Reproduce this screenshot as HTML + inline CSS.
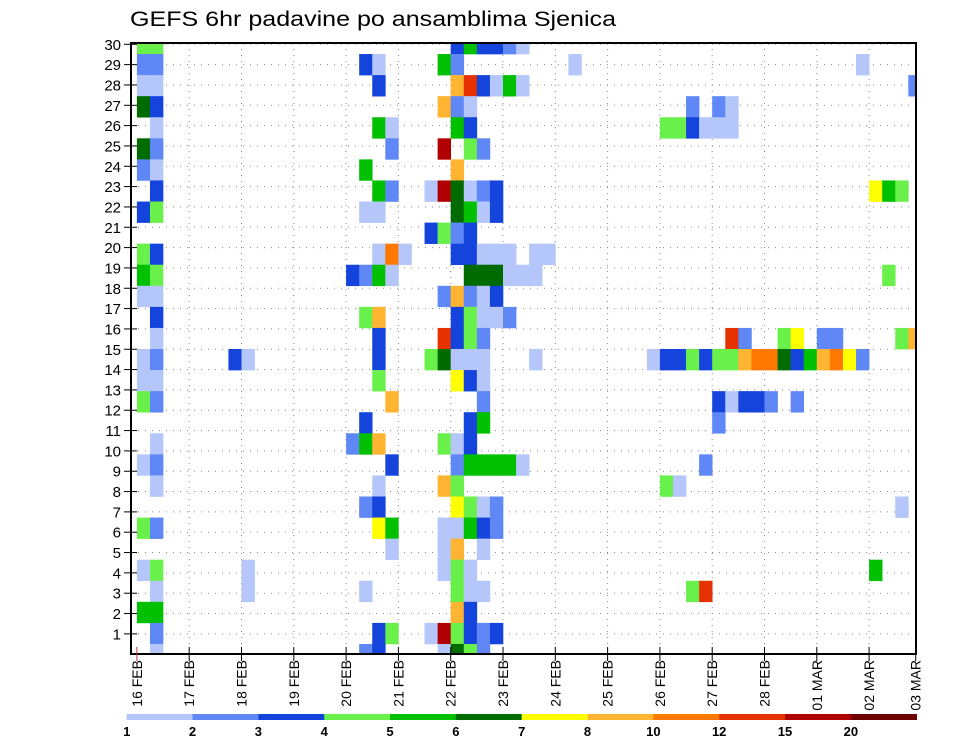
<!DOCTYPE html>
<html><head><meta charset="utf-8"><style>
html,body{margin:0;padding:0;background:#fff;}
svg{display:block;font-family:"Liberation Sans",sans-serif;}
</style></head><body>
<svg id="chart" width="960" height="742" viewBox="0 0 960 742" xmlns="http://www.w3.org/2000/svg">
<rect width="960" height="742" fill="#fff"/>
<text x="130" y="26" font-size="21" textLength="486" lengthAdjust="spacingAndGlyphs" fill="#000">GEFS 6hr padavine po ansamblima Sjenica</text>
<defs><clipPath id="pc"><rect x="131" y="43" width="785" height="611"/></clipPath></defs>
<g id="grid"></g>
<g id="cells" clip-path="url(#pc)"></g>
<rect x="131" y="43" width="785" height="611" fill="none" stroke="#000" stroke-width="2"/>
<g id="yaxis"></g>
<g id="xaxis"></g>
<g id="cbar"></g>
</svg>
<script>
const NS="http://www.w3.org/2000/svg";
const dayLabels=["16 FEB","17 FEB","18 FEB","19 FEB","20 FEB","21 FEB","22 FEB","23 FEB","24 FEB","25 FEB","26 FEB","27 FEB","28 FEB","01 MAR","02 MAR","03 MAR"];
const memberTicks=[1,2,3,4,5,6,7,8,9,10,11,12,13,14,15,16,17,18,19,20,21,22,23,24,25,26,27,28,29,30];
const levels=[1,2,3,4,5,6,7,8,10,12,15,20];
const levelColors=["#b4c6fa","#5f87f6","#1444dc","#6af04a","#00c000","#006c00","#ffff00","#ffb432","#ff7800","#e63200","#b00000","#6e0000"];
// [member, 6h-step index from 16 FEB 00Z, precip mm]
const cells=[
[30,0,4.5],[30,1,4.5],[30,24,3.5],[30,25,5.5],[30,26,3.5],[30,27,3.5],[30,28,2.5],[30,29,1.5],
[29,0,2.5],[29,1,2.5],[29,17,3.5],[29,18,1.5],[29,23,5.5],[29,24,2.5],[29,33,1.5],[29,55,1.5],
[28,0,1.5],[28,1,1.5],[28,18,3.5],[28,24,9],[28,25,13.5],[28,26,3.5],[28,27,1.5],[28,28,5.5],[28,29,1.5],[28,59,2.5],
[27,0,6.5],[27,1,3.5],[27,23,9],[27,24,2.5],[27,25,1.5],[27,42,2.5],[27,44,2.5],[27,45,1.5],
[26,1,1.5],[26,18,5.5],[26,19,1.5],[26,24,5.5],[26,25,3.5],[26,40,4.5],[26,41,4.5],[26,42,3.5],[26,43,1.5],[26,44,1.5],[26,45,1.5],
[25,0,6.5],[25,1,2.5],[25,19,2.5],[25,23,17.5],[25,25,4.5],[25,26,2.5],
[24,0,2.5],[24,1,1.5],[24,17,5.5],[24,24,9],
[23,1,3.5],[23,18,5.5],[23,19,2.5],[23,22,1.5],[23,23,17.5],[23,24,6.5],[23,25,1.5],[23,26,2.5],[23,27,3.5],[23,56,7.5],[23,57,5.5],[23,58,4.5],
[22,0,3.5],[22,1,4.5],[22,17,1.5],[22,18,1.5],[22,24,6.5],[22,25,5.5],[22,26,1.5],[22,27,3.5],
[21,22,3.5],[21,23,4.5],[21,24,2.5],[21,25,3.5],
[20,0,4.5],[20,1,3.5],[20,18,1.5],[20,19,11],[20,20,1.5],[20,24,3.5],[20,25,3.5],[20,26,1.5],[20,27,1.5],[20,28,1.5],[20,30,1.5],[20,31,1.5],
[19,0,5.5],[19,1,4.5],[19,16,3.5],[19,17,2.5],[19,18,5.5],[19,19,1.5],[19,25,6.5],[19,26,6.5],[19,27,6.5],[19,28,1.5],[19,29,1.5],[19,30,1.5],[19,57,4.5],
[18,0,1.5],[18,1,1.5],[18,23,2.5],[18,24,9],[18,25,2.5],[18,26,1.5],[18,27,3.5],
[17,1,3.5],[17,17,4.5],[17,18,9],[17,24,3.5],[17,25,4.5],[17,26,1.5],[17,27,1.5],[17,28,2.5],
[16,1,1.5],[16,18,3.5],[16,23,13.5],[16,24,3.5],[16,25,4.5],[16,26,2.5],[16,45,13.5],[16,46,2.5],[16,49,4.5],[16,50,7.5],[16,52,2.5],[16,53,2.5],[16,58,4.5],[16,59,9],
[15,0,1.5],[15,1,2.5],[15,7,3.5],[15,8,1.5],[15,18,3.5],[15,22,4.5],[15,23,6.5],[15,24,1.5],[15,25,1.5],[15,26,1.5],[15,30,1.5],[15,39,1.5],[15,40,3.5],[15,41,3.5],[15,42,4.5],[15,43,3.5],[15,44,4.5],[15,45,4.5],[15,46,9],[15,47,11],[15,48,11],[15,49,6.5],[15,50,3.5],[15,51,5.5],[15,52,9],[15,53,11],[15,54,7.5],[15,55,2.5],
[14,0,1.5],[14,1,1.5],[14,18,4.5],[14,24,7.5],[14,25,3.5],[14,26,1.5],
[13,0,4.5],[13,1,2.5],[13,19,9],[13,26,2.5],[13,44,3.5],[13,45,1.5],[13,46,3.5],[13,47,3.5],[13,48,2.5],[13,50,2.5],
[12,17,3.5],[12,25,3.5],[12,26,5.5],[12,44,2.5],
[11,1,1.5],[11,16,2.5],[11,17,5.5],[11,18,9],[11,23,4.5],[11,24,1.5],[11,25,3.5],
[10,0,1.5],[10,1,2.5],[10,19,3.5],[10,24,2.5],[10,25,5.5],[10,26,5.5],[10,27,5.5],[10,28,5.5],[10,29,1.5],[10,43,2.5],
[9,1,1.5],[9,18,1.5],[9,23,9],[9,24,4.5],[9,40,4.5],[9,41,1.5],
[8,17,2.5],[8,18,3.5],[8,24,7.5],[8,25,4.5],[8,26,1.5],[8,27,2.5],[8,58,1.5],
[7,0,4.5],[7,1,2.5],[7,18,7.5],[7,19,5.5],[7,23,1.5],[7,24,1.5],[7,25,5.5],[7,26,3.5],[7,27,2.5],
[6,19,1.5],[6,23,1.5],[6,24,9],[6,26,1.5],
[5,0,1.5],[5,1,4.5],[5,8,1.5],[5,23,1.5],[5,24,4.5],[5,25,1.5],[5,56,5.5],
[4,1,1.5],[4,8,1.5],[4,17,1.5],[4,24,4.5],[4,25,1.5],[4,26,1.5],[4,42,4.5],[4,43,13.5],
[3,0,5.5],[3,1,5.5],[3,24,9],[3,25,3.5],
[2,1,2.5],[2,18,3.5],[2,19,4.5],[2,22,1.5],[2,23,17.5],[2,24,4.5],[2,25,3.5],[2,26,2.5],[2,27,3.5],
[1,1,1.5],[1,17,2.5],[1,18,3.5],[1,23,1.5],[1,24,6.5],[1,25,4.5],[1,26,2.5]
];

// axis functions
const X0=136.9, DAY=52.3, STEP=DAY/4;
function xDay(d){return X0+d*DAY;}
function xStep(s){return X0+s*STEP;}
const ROWH=611/29;
function yMember(m){return 654.5-(m-1)*ROWH;}     // cell center
function yTick(n){return 44.3+(30-n)*20.33;}
function colorFor(v){let i=0;for(let k=0;k<levels.length;k++){if(v>=levels[k])i=k;}return levelColors[i];}
function mk(tag,attrs,parent){const e=document.createElementNS(NS,tag);for(const k in attrs)e.setAttribute(k,attrs[k]);parent.appendChild(e);return e;}

const grid=document.getElementById('grid');
for(let d=1;d<dayLabels.length-1;d++){
  const l=mk('line',{x1:xDay(d),x2:xDay(d),y1:43,y2:654,stroke:'#888','stroke-width':1,'stroke-dasharray':'1,5'},grid);
  
  
}
memberTicks.forEach(n=>{
  const l=mk('line',{x1:131,x2:916,y1:yTick(n),y2:yTick(n),stroke:'#888','stroke-width':1,'stroke-dasharray':'1,6'},grid);
  
  
});

const cg=document.getElementById('cells');
cells.forEach(c=>{
  const r=mk('rect',{x:xStep(c[1]),y:yMember(c[0])-ROWH/2,width:STEP+0.3,height:ROWH+0.3,fill:colorFor(c[2])},cg);
  
  
});

const ya=document.getElementById('yaxis');
memberTicks.forEach(n=>{
  const y=yTick(n);
  const t=mk('line',{x1:124,x2:137,y1:y,y2:y,stroke:'#000','stroke-width':1},ya);
  
  
  const tx=mk('text',{x:121,y:y+5.5,'text-anchor':'end','font-size':15,fill:'#000'},ya);
  tx.textContent=String(n);
  
  
});

const xa=document.getElementById('xaxis');
dayLabels.forEach((lab,d)=>{
  let x=Math.min(xDay(d),915.7);
  const t=mk('line',{x1:x,x2:x,y1:647,y2:661,stroke:d===0?'#c33':'#000','stroke-width':1},xa);
  
  
  const tx=mk('text',{'text-anchor':'end','font-size':14,fill:'#000',transform:`translate(${x+5},660) rotate(-90)`},xa);
  tx.textContent=lab;
  
  
});

const cb=document.getElementById('cbar');
const CB0=126.7, CBW=(916.7-126.7)/levelColors.length;
levelColors.forEach((col,i)=>{
  const r=mk('rect',{x:CB0+i*CBW,y:714,width:CBW+0.3,height:6,fill:col},cb);
  
  
});
levels.forEach((v,i)=>{
  const tx=mk('text',{x:CB0+i*CBW,y:736,'text-anchor':'middle','font-size':13,'font-weight':'bold',fill:'#000'},cb);
  tx.textContent=String(v);
  
  
});
</script>
</body></html>
